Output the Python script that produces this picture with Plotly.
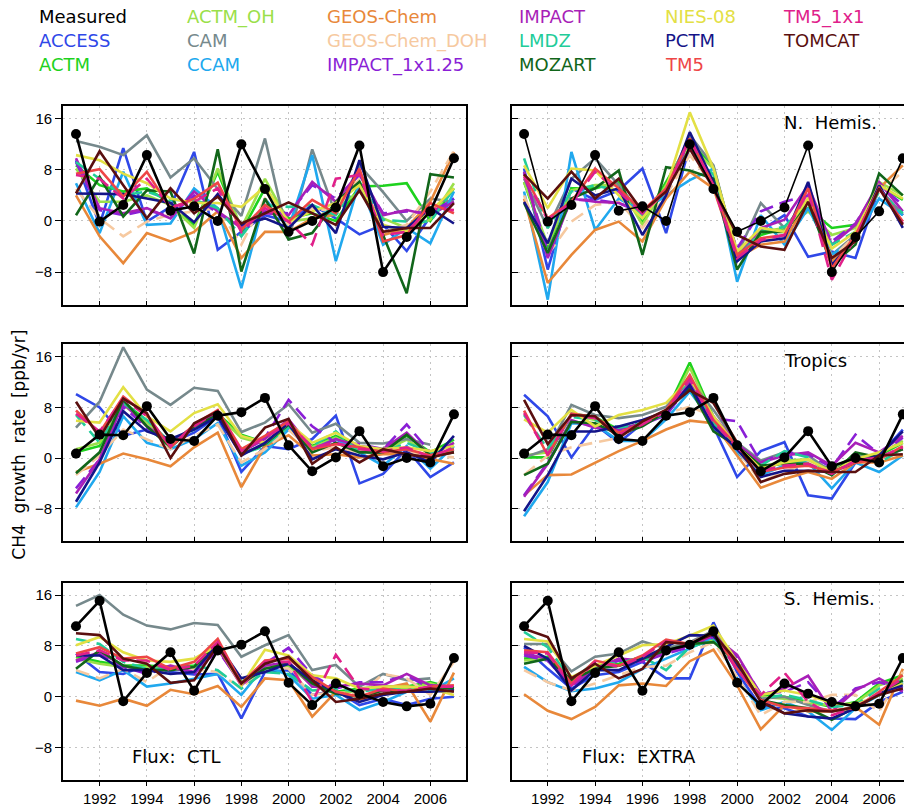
import plotly.graph_objects as go

# ---------------------------------------------------------------- data
years = list(range(1991, 2008))
tick_years = list(range(1992, 2007, 2))
y_ticks = [-8, 0, 8, 16]

models = ["ACCESS", "ACTM", "ACTM_OH", "CAM", "CCAM", "GEOS-Chem",
          "GEOS-Chem_DOH", "IMPACT_1x1.25", "IMPACT", "LMDZ", "MOZART",
          "NIES-08", "PCTM", "TM5", "TM5_1x1", "TOMCAT"]

colors = {
    "Measured": "#000000", "ACCESS": "#2f48e8", "ACTM": "#1ed21e",
    "ACTM_OH": "#9ae04a", "CAM": "#76898c", "CCAM": "#20a8ee",
    "GEOS-Chem": "#e8883a", "GEOS-Chem_DOH": "#f6c9a0",
    "IMPACT_1x1.25": "#8a1fd6", "IMPACT": "#a81fb8", "LMDZ": "#22cc99",
    "MOZART": "#11661a", "NIES-08": "#e3e044", "PCTM": "#141488",
    "TM5": "#ee4646", "TM5_1x1": "#e0208a", "TOMCAT": "#5a0f0f",
}
dashed = {"GEOS-Chem_DOH", "IMPACT_1x1.25", "TM5_1x1", "LMDZ"}

# observed CH4 growth rate (ppb/yr)
measured_nh = [13.6, -0.1, 2.5, 10.3, 1.6, 2.3, 0.0, 12.0, 5.0, -1.7, 0.0, 2.1, 11.8, -8.0, -2.5, 1.5, 9.8]
measured_tr = [0.7, 3.7, 3.6, 8.2, 3.0, 2.7, 6.7, 7.25, 9.5, 2.0, -2.1, 0.1, 4.25, -1.3, 0.0, -0.7, 6.9]
measured_sh = [11.1, 15.1, -0.7, 3.75, 7.0, 0.95, 7.3, 8.2, 10.3, 2.2, -1.3, 2.1, 0.5, -0.8, -1.5, -1.1, 6.1]

# model growth rates, flux scenario CTL
nh_ctl = {
    "ACCESS": [9.5, -0.6, 11.4, -0.1, 2.2, 10.8, -4.5, -1.7, 0.9, -0.1, 2.5, 0.4, -2.1, -0.6, -4.7, 0.7, 3.5],
    "ACTM": [8.7, 5.6, 4.6, 5.1, 2.8, -0.6, 7.7, -1.7, 5.1, 0.4, 1.2, 0.0, 5.4, 5.5, 5.9, 0.0, 5.1],
    "ACTM_OH": [8.2, 3.0, 3.0, 4.0, 2.5, -1.1, 8.2, -1.1, 6.6, -0.1, 0.4, 2.0, 4.6, 0.4, -1.1, 0.2, 5.9],
    "CAM": [12.5, 11.6, 10.3, 13.4, 6.8, 9.8, 5.0, 0.8, 12.9, -3.0, 11.2, 1.0, 8.7, 4.5, 0.0, 3.5, 3.0],
    "CCAM": [5.9, -1.9, 7.7, -0.6, -0.4, 5.1, 2.0, -10.5, 3.5, -1.1, 10.3, -6.3, 6.1, -3.7, -1.1, -3.5, 4.6],
    "GEOS-Chem": [4.0, -2.4, -6.6, -1.9, -3.2, -1.7, 1.5, -5.8, -1.7, -1.7, 0.4, 1.0, 7.7, -2.2, -1.1, 3.0, 10.8],
    "GEOS-Chem_DOH": [5.0, 0.4, -2.4, -0.1, 1.0, 1.5, 2.0, -3.7, 3.5, -0.6, 2.0, 1.5, 6.6, -1.7, -0.6, 4.6, 11.0],
    "IMPACT_1x1.25": [9.2, 1.7, 0.9, 1.7, 0.7, 4.0, 1.2, -0.9, 1.5, 1.2, 5.6, 3.5, 7.2, 1.2, 1.5, 1.2, 3.5],
    "IMPACT": [9.8, 2.0, 1.2, 2.0, 0.4, 4.6, 1.5, -1.1, 1.2, 0.9, 6.1, 3.0, 7.7, 0.9, 1.7, 0.9, 3.0],
    "LMDZ": [9.2, 6.6, 4.0, 4.6, 3.3, 3.3, 2.0, -2.4, 2.5, 2.2, 2.5, 0.9, 6.1, 0.2, -0.1, -0.1, 5.1],
    "MOZART": [0.9, 6.9, 0.7, 4.8, 4.6, -5.1, 11.2, -7.9, 3.5, -2.9, -1.9, 3.0, 6.1, -2.2, -11.3, 7.3, 6.8],
    "NIES-08": [10.3, 9.5, 7.4, 5.9, 3.5, 2.8, 2.8, 2.2, 5.4, -0.1, 1.5, 2.8, 5.6, -0.6, -1.7, 1.5, 5.1],
    "PCTM": [4.3, 4.3, 4.2, 3.5, 2.8, -0.2, 4.2, -0.6, 0.4, -1.1, 2.5, -1.9, 9.5, -0.9, -1.1, 2.0, -0.4],
    "TM5": [7.4, 8.1, 3.8, 7.7, 2.0, 3.5, 6.0, -1.4, 2.5, -0.1, 3.3, 1.2, 8.2, -3.2, -2.2, 2.8, 1.2],
    "TM5_1x1": [7.2, 6.6, 3.5, 6.6, 2.2, 3.0, 5.1, -1.7, 2.0, -0.1, -3.7, 6.6, 7.2, -2.2, -1.7, 2.0, 1.7],
    "TOMCAT": [4.3, 10.9, 5.6, 0.4, 5.1, 1.2, 3.8, -0.4, 1.2, 2.9, 1.2, -0.6, 4.8, -1.7, -1.1, -1.1, 2.8],
}
tr_ctl = {
    "ACCESS": [10.1, 8.0, 3.5, 4.5, 2.4, 4.0, 6.6, -2.2, 1.9, 1.4, 3.0, 6.7, -4.0, -2.5, 1.4, -3.0, -0.7],
    "ACTM": [0.9, 1.9, 8.9, 5.9, 2.2, 5.1, 7.0, 3.7, 2.4, 5.1, 1.9, 3.5, 1.7, 1.4, 3.5, 0.9, 2.9],
    "ACTM_OH": [1.4, 2.4, 8.4, 5.6, 1.9, 4.8, 6.8, 3.2, 2.2, 4.8, 1.7, 3.2, 1.4, 1.1, 2.9, 0.6, 2.4],
    "CAM": [4.8, 8.9, 17.5, 10.8, 8.4, 11.1, 10.6, 4.1, 5.6, 8.5, 4.0, 5.4, 2.4, 2.3, 3.0, 2.1, None],
    "CCAM": [-7.8, -2.2, 6.6, 2.4, 1.4, 3.0, 5.5, -1.2, 0.9, 4.5, 1.4, 3.0, 0.9, -1.2, 1.9, -1.7, 1.9],
    "GEOS-Chem": [-2.2, -0.9, 0.7, -0.2, -1.3, 1.7, 4.0, -4.6, 1.9, 3.6, 0.4, 0.6, 0.1, 0.6, 0.6, -0.2, -0.9],
    "GEOS-Chem_DOH": [-2.7, 0.4, 4.5, 2.9, 1.4, 3.5, 5.3, -0.7, 1.4, 4.5, 1.1, 1.7, 0.9, 1.1, 0.9, 0.4, 0.1],
    "IMPACT_1x1.25": [-4.8, -0.2, 8.1, 4.8, 2.4, 4.8, 6.8, 1.1, 3.2, 9.2, 5.0, 2.4, 2.2, 1.4, 5.3, 0.9, 1.4],
    "IMPACT": [-5.6, -0.2, 8.7, 5.0, 2.4, 5.0, 7.1, 0.9, 3.0, 6.1, 1.4, 3.0, 1.9, 1.4, 4.0, 0.4, 2.4],
    "LMDZ": [6.8, 2.4, 8.7, 6.0, 2.4, 4.5, 6.8, 0.6, 1.9, 5.0, 1.9, 4.2, 0.9, 0.9, 2.4, 0.9, 1.4],
    "MOZART": [-2.4, 0.9, 9.2, 5.0, 1.7, 5.0, 6.8, 0.6, 2.2, 5.3, 0.9, 2.4, 0.9, 0.9, 3.7, 0.4, 0.9],
    "NIES-08": [5.9, 5.6, 11.2, 6.6, 4.2, 7.1, 8.5, 3.5, 2.4, 5.5, 2.4, 4.0, 1.9, 1.4, 1.7, 1.1, 1.9],
    "PCTM": [-6.9, -0.7, 7.4, 4.2, 3.0, 4.5, 6.6, 0.4, 2.4, 5.5, -0.2, 1.4, 0.4, -0.2, 0.9, -0.7, 3.5],
    "TM5": [7.5, 4.0, 9.7, 6.8, 1.7, 5.3, 7.6, 1.4, 3.5, 5.8, 1.4, 2.2, 1.7, 0.9, 1.4, 0.4, 1.4],
    "TM5_1x1": [7.0, 4.2, 9.4, 6.6, 1.9, 5.0, 7.4, 1.1, 3.2, 5.5, 1.7, 2.4, 1.4, 1.1, 1.7, 0.1, 1.7],
    "TOMCAT": [8.9, 3.2, 9.4, 7.1, 0.0, 5.5, 7.4, 0.4, 4.8, 6.2, -0.9, 1.7, -0.7, 1.4, 0.6, 0.1, 0.9],
}
sh_ctl = {
    "ACCESS": [6.8, 3.9, 3.6, 5.0, 3.9, 3.5, 3.6, -3.4, 3.9, 4.2, 0.3, 1.0, -1.3, -0.3, -1.3, -0.3, 0.0],
    "ACTM": [6.3, 5.5, 4.9, 4.9, 4.7, 4.9, 8.1, 2.3, 4.9, 5.2, 2.1, 0.8, 1.3, 1.6, 1.6, 2.3, 1.3],
    "ACTM_OH": [6.0, 5.2, 4.7, 4.7, 4.4, 4.7, 7.6, 2.1, 4.7, 4.9, 1.8, 0.5, 1.0, 1.3, 1.3, 2.1, 1.0],
    "CAM": [14.3, 16.0, 12.9, 11.2, 10.6, 11.6, 11.3, 6.3, 8.1, 9.7, 4.2, 5.0, 1.6, 3.6, 2.6, 2.9, None],
    "CCAM": [3.9, 2.6, 4.2, 1.6, 2.1, 2.9, 3.6, 0.3, 4.9, 3.4, -0.3, 0.3, -2.1, -0.8, 0.8, 0.8, 2.9],
    "GEOS-Chem": [-0.6, -1.4, -0.3, -1.4, 1.1, 0.4, 1.7, -1.6, 2.9, 2.6, -3.1, 0.8, -0.8, 1.3, 2.1, -3.9, 3.8],
    "GEOS-Chem_DOH": [4.2, 2.9, 4.4, 2.3, 4.9, 4.4, 3.9, 1.3, 4.9, 4.4, 0.3, 0.8, 0.3, 3.6, 2.9, 0.3, 5.5],
    "IMPACT_1x1.25": [5.5, 6.8, 4.7, 3.6, 4.7, 3.6, 7.3, 2.1, 5.2, 7.7, 3.4, 1.3, 2.3, 2.3, 3.4, 1.3, 1.0],
    "IMPACT": [5.7, 7.0, 4.9, 3.9, 4.9, 3.9, 7.6, 1.8, 4.9, 5.5, 1.6, 1.6, 2.1, 1.8, 3.6, 1.8, 1.6],
    "LMDZ": [9.1, 8.3, 5.5, 4.4, 4.4, 4.9, 4.2, 1.3, 3.9, 3.6, 1.0, 1.3, 0.8, 1.3, 1.6, 0.8, 1.3],
    "MOZART": [4.4, 7.3, 4.9, 4.2, 4.2, 4.7, 8.3, 2.1, 4.4, 5.2, 2.1, 0.5, 0.0, 1.0, 0.8, 1.6, 1.3],
    "NIES-08": [8.1, 9.4, 7.0, 5.7, 5.5, 6.0, 8.1, 1.8, 7.4, 6.5, 3.4, 2.9, 1.3, 1.6, 1.6, 1.3, 0.3],
    "PCTM": [6.5, 6.5, 4.2, 4.2, 3.6, 3.9, 8.3, 2.9, 3.9, 5.2, 2.6, 0.8, -0.8, 0.3, 0.8, 0.8, 1.0],
    "TM5": [6.8, 7.8, 6.0, 6.3, 4.4, 5.5, 9.1, 2.1, 5.7, 6.0, 3.1, 0.8, 0.0, 1.3, 0.8, 1.6, 1.8],
    "TM5_1x1": [6.5, 7.3, 5.7, 5.7, 4.2, 4.9, 8.6, 1.8, 5.5, 5.5, -0.8, 6.6, 1.3, 1.0, 1.0, 1.6, 1.6],
    "TOMCAT": [10.0, 9.7, 6.0, 5.2, 2.2, 2.6, 8.1, 2.1, 5.2, 6.3, 2.6, -0.8, -0.3, 0.5, 0.8, 1.3, 0.8],
}

# model growth rates, flux scenario EXTRA
nh_extra = {
    "ACCESS": [8.2, -7.6, 5.1, 3.3, 4.8, 8.2, -1.9, 11.8, 5.6, -6.3, -1.5, 0.9, -5.6, -4.8, -5.8, 5.1, 0.9],
    "ACTM": [6.1, -4.3, 5.1, 5.1, 6.1, -0.1, 6.1, 12.4, 8.5, -5.3, -2.2, -1.1, 2.0, -1.1, -0.6, 5.6, 3.3],
    "ACTM_OH": [6.1, -3.7, 4.8, 5.6, 5.6, -0.6, 5.6, 11.8, 8.2, -4.8, -1.7, -1.1, 1.5, -2.2, -1.1, 6.1, 4.0],
    "CAM": [6.6, -1.1, 6.6, 9.8, 5.6, 0.9, 5.1, 13.4, 8.7, -5.3, 2.8, -1.1, 3.5, -5.3, -2.2, 5.1, 0.9],
    "CCAM": [4.6, -12.3, 10.8, -1.4, 3.5, 1.5, 4.0, 6.4, 8.2, -9.5, 0.9, -3.7, 2.0, -5.3, -2.7, 3.5, 0.9],
    "GEOS-Chem": [3.5, -9.7, -5.3, -1.4, -0.1, -3.2, 3.5, 7.7, 5.1, -5.8, -3.7, -3.2, 3.5, -6.3, -2.7, 5.1, 8.7],
    "GEOS-Chem_DOH": [4.0, -5.3, -0.1, 2.5, 3.0, -1.1, 4.0, 10.3, 5.6, -5.3, -3.2, -2.2, 4.0, -5.8, -2.2, 4.6, 7.7],
    "IMPACT_1x1.25": [7.5, -4.8, 3.3, 3.3, 2.8, 1.2, 4.8, 12.6, 5.6, -4.3, 1.5, 3.0, 4.0, -3.2, -0.4, 5.6, 2.5],
    "IMPACT": [7.7, -5.8, 3.5, 3.0, 2.8, 1.5, 4.6, 12.9, 5.6, -5.8, -1.1, 0.2, 5.6, -3.7, -0.6, 6.1, 1.5],
    "LMDZ": [9.8, -1.1, 4.6, 5.6, 4.6, 0.4, 5.1, 11.3, 7.2, -5.8, -1.7, -0.9, 3.0, -3.7, -1.7, 4.6, 1.2],
    "MOZART": [2.8, -5.0, 3.5, 5.1, 7.9, -5.3, 8.4, 7.9, 6.6, -7.6, -1.7, -1.7, 3.0, -6.9, -3.7, 7.4, 4.0],
    "NIES-08": [8.7, 2.0, 8.2, 7.9, 4.0, 0.4, 5.1, 17.0, 8.2, -4.8, -1.1, -1.7, 3.5, -4.3, -1.7, 5.6, 3.5],
    "PCTM": [3.0, -3.5, 6.6, 4.0, 5.1, -2.2, 4.0, 13.9, 6.1, -6.3, -3.2, -2.7, 6.1, -6.9, -2.7, 5.6, -1.1],
    "TM5": [7.2, 0.4, 3.0, 8.2, 5.1, 1.5, 5.1, 12.9, 5.6, -5.3, -2.7, -2.2, 5.1, -7.4, -2.2, 5.1, -0.1],
    "TM5_1x1": [6.9, 0.2, 2.8, 7.7, 4.6, 1.2, 4.6, 12.9, 5.4, -5.8, -3.0, -2.2, 4.6, -9.2, -2.5, 5.1, -0.4],
    "TOMCAT": [7.3, 3.5, 7.7, 3.5, 6.6, 1.5, 4.6, 11.3, 5.1, -2.2, -4.0, -4.5, 3.0, -5.8, -3.2, 5.1, -0.6],
}
tr_extra = {
    "ACCESS": [10.0, 6.6, 0.1, 5.3, 2.4, 5.5, 6.8, 11.8, 5.0, -3.0, 1.1, 2.5, -5.9, -6.4, -0.7, 0.4, 4.5],
    "ACTM": [0.1, 0.1, 7.0, 6.5, 4.5, 5.5, 7.3, 15.1, 6.5, 1.9, -1.7, -0.7, -0.7, -1.7, 0.4, 0.4, 2.4],
    "ACTM_OH": [0.4, 0.9, 6.8, 6.0, 4.2, 5.3, 7.0, 14.3, 6.3, 1.7, -1.5, -0.4, -0.2, -2.0, 0.1, 0.6, 2.7],
    "CAM": [0.1, 1.4, 8.4, 6.8, 6.3, 6.8, 8.1, 12.3, 7.6, 2.4, -0.4, 0.9, 0.4, -2.2, 0.4, -0.2, 1.4],
    "CCAM": [-9.2, -3.8, 5.5, 5.3, 2.7, 2.7, 6.1, 10.5, 5.5, 0.9, -2.7, -1.2, -0.7, -4.8, -0.7, -2.2, 0.4],
    "GEOS-Chem": [-5.9, -2.7, -2.6, -0.7, 1.1, 2.7, 4.5, 5.9, 5.5, 0.4, -4.7, -3.3, -2.2, -3.3, -0.7, -0.7, 0.4],
    "GEOS-Chem_DOH": [-2.7, 0.4, 1.7, 2.4, 3.2, 5.5, 7.1, 8.1, 6.6, 1.4, -3.8, -2.2, -0.7, -2.2, -0.2, -0.2, 0.9],
    "IMPACT_1x1.25": [-5.9, -0.7, 5.8, 5.0, 4.2, 5.3, 6.8, 11.5, 6.3, 5.8, -0.7, 0.9, 0.6, -1.5, 3.7, 0.6, 3.2],
    "IMPACT": [-6.1, -0.9, 6.0, 4.8, 4.5, 5.5, 7.1, 11.8, 6.6, 2.2, -0.7, 0.4, 0.9, -1.2, 2.4, 0.9, 3.5],
    "LMDZ": [6.8, 1.4, 6.5, 6.0, 4.8, 5.5, 7.0, 12.8, 5.5, 1.7, -1.2, 1.1, 0.1, -2.7, 0.4, -0.7, 1.4],
    "MOZART": [-2.7, -0.9, 5.7, 5.5, 3.7, 5.0, 7.3, 11.2, 4.2, 1.9, -1.2, -0.9, -0.9, -2.7, 0.9, 0.1, 1.4],
    "NIES-08": [6.1, 4.0, 7.6, 5.0, 6.8, 7.6, 8.7, 12.5, 6.6, 1.9, -1.7, -0.7, -0.2, -2.2, -0.2, 0.9, 2.4],
    "PCTM": [-8.4, -2.7, 4.2, 4.2, 5.0, 6.0, 7.3, 11.5, 5.0, 1.4, -3.0, -2.0, -2.0, -2.2, -0.7, 0.4, 4.2],
    "TM5": [7.5, 0.4, 7.0, 6.5, 4.0, 5.5, 7.6, 13.1, 6.0, 1.9, -2.2, -1.5, -1.2, -2.2, -0.7, -0.2, 1.9],
    "TM5_1x1": [7.1, 0.6, 6.8, 6.3, 3.7, 5.3, 7.4, 12.5, 5.7, 1.7, -2.0, -1.2, -0.9, -2.5, -0.4, 0.1, 1.7],
    "TOMCAT": [9.2, 2.2, 6.8, 6.6, 3.2, 5.8, 7.6, 10.7, 8.7, 2.4, -3.8, -2.5, -2.0, -2.2, -2.2, 0.4, 0.6],
}
sh_extra = {
    "ACCESS": [7.8, 4.4, 1.3, 3.4, 3.9, 5.5, 2.9, 2.9, 11.7, 3.9, -1.6, -1.8, -3.1, -3.4, -3.5, -0.8, 0.8],
    "ACTM": [6.0, 6.3, 2.6, 4.9, 5.2, 6.3, 7.6, 8.3, 9.1, 5.5, 0.3, 0.0, -0.8, -1.6, -0.8, 2.1, 3.4],
    "ACTM_OH": [5.7, 6.0, 2.3, 4.7, 4.9, 6.0, 7.3, 8.1, 8.9, 5.2, 0.0, -0.3, -1.0, -1.3, -1.0, 1.8, 2.9],
    "CAM": [8.3, 8.3, 4.0, 6.3, 6.8, 8.7, 7.6, 8.6, 10.4, 4.9, -0.3, 0.0, -1.3, -2.3, -1.6, 0.3, 2.3],
    "CCAM": [4.7, 2.3, 0.9, 1.3, 2.3, 4.4, 6.0, 7.6, 9.4, 2.9, -2.1, -0.8, -2.3, -5.2, -1.8, 0.3, 2.3],
    "GEOS-Chem": [0.4, -2.2, -3.5, -1.6, 1.8, 2.1, 1.7, 5.6, 7.4, 1.8, -5.1, -1.3, -2.3, -2.3, -1.6, -4.4, 4.4],
    "GEOS-Chem_DOH": [4.2, 2.3, 1.0, 2.1, 3.4, 4.7, 4.9, 7.0, 8.6, 3.1, -2.9, -0.8, -0.8, 0.3, 0.3, -2.3, 3.9],
    "IMPACT_1x1.25": [6.5, 5.7, 1.6, 4.2, 5.7, 5.5, 6.8, 7.8, 9.4, 6.3, 0.5, 0.8, 2.3, -1.8, 1.3, 2.3, 1.3],
    "IMPACT": [6.8, 6.0, 1.8, 4.4, 6.0, 5.7, 7.0, 8.1, 9.6, 6.6, 0.3, 1.3, 3.3, -2.3, 1.0, 2.9, 0.8],
    "LMDZ": [10.2, 7.8, 2.6, 5.5, 5.2, 6.3, 4.2, 7.8, 8.9, 4.7, -0.3, 0.3, -0.5, -1.6, -1.3, 1.3, 2.9],
    "MOZART": [5.2, 6.0, 2.6, 4.4, 4.9, 6.0, 7.3, 8.3, 8.6, 5.5, -0.5, -1.3, -1.8, -3.6, -1.6, 0.3, 2.6],
    "NIES-08": [9.1, 8.7, 3.1, 4.9, 6.5, 8.1, 8.3, 9.6, 11.2, 5.5, 0.3, 1.0, 0.3, -1.0, -1.3, 0.3, 2.1],
    "PCTM": [8.0, 6.0, 1.0, 4.2, 4.2, 6.0, 7.8, 9.7, 9.6, 4.9, -0.5, -2.6, -3.1, -3.4, -1.8, 0.5, 1.8],
    "TM5": [7.3, 7.0, 2.1, 5.7, 4.9, 6.5, 9.0, 8.3, 10.2, 4.4, -0.5, -1.6, -1.8, -2.1, -1.8, 0.8, 3.4],
    "TM5_1x1": [7.0, 6.8, 1.8, 5.5, 4.7, 6.3, 8.7, 8.1, 9.9, 4.2, 0.3, 3.8, -0.8, -2.9, -1.6, 0.5, 2.9],
    "TOMCAT": [10.7, 9.4, 2.9, 5.2, 2.9, 4.4, 8.6, 8.3, 9.9, 5.5, -0.8, -2.6, -2.1, -2.3, -1.6, 0.3, 1.3],
}

# legend text, laid out column by column, three entries per column
legend_columns = [
    ["Measured", "ACCESS", "ACTM"],
    ["ACTM_OH", "CAM", "CCAM"],
    ["GEOS-Chem", "GEOS-Chem_DOH", "IMPACT_1x1.25"],
    ["IMPACT", "LMDZ", "MOZART"],
    ["NIES-08", "PCTM", "TM5"],
    ["TM5_1x1", "TOMCAT"],
]

# ---------------------------------------------------------------- layout helpers
W, H = 904, 807


def px_x(p):
    return p / W


def px_y(p):
    return 1 - p / H


col_domains = [[px_x(63), px_x(466)], [px_x(512), 1.0]]
row_domains = [[px_y(307), px_y(107)], [px_y(545), px_y(347)], [px_y(786), px_y(587)]]
col_xranges = [[1990.45, 2007.51], [1990.49, 2007.05]]
y_range = [-13.1, 17.95]

# (row, column, model series, observations, width of the observed line)
panels = [
    (0, 0, nh_ctl, measured_nh, 2.6), (0, 1, nh_extra, measured_nh, 1.6),
    (1, 0, tr_ctl, measured_tr, 2.6), (1, 1, tr_extra, measured_tr, 2.6),
    (2, 0, sh_ctl, measured_sh, 2.6), (2, 1, sh_extra, measured_sh, 2.6),
]

tick_font = dict(family="Liberation Sans, Arial, sans-serif", size=15, color="black")
label_font = dict(family="DejaVu Sans, sans-serif", size=18, color="black")
grid_style = dict(showgrid=True, gridcolor="#c4c4c4", griddash="2px,4px", gridwidth=1)

fig = go.Figure()
layout = {}

for i, (row, col, series, measured, obs_width) in enumerate(panels, start=1):
    xa = "x" if i == 1 else f"x{i}"
    ya = "y" if i == 1 else f"y{i}"
    for name in models:
        fig.add_trace(go.Scatter(
            x=years, y=series[name], mode="lines", name=name,
            line=dict(color=colors[name], width=2.6,
                      dash="14px,7px" if name in dashed else "solid"),
            xaxis=xa, yaxis=ya, showlegend=False, connectgaps=False,
        ))
    fig.add_trace(go.Scatter(
        x=years, y=measured, mode="lines+markers", name="Measured",
        line=dict(color="black", width=obs_width),
        marker=dict(color="black", size=10),
        xaxis=xa, yaxis=ya, showlegend=False,
    ))

    layout[f"xaxis{'' if i == 1 else i}"] = dict(
        domain=col_domains[col], range=col_xranges[col], anchor=ya,
        tickmode="array", tickvals=tick_years,
        showticklabels=(row == 2), tickfont=tick_font,
        ticks="outside" if row == 2 else "inside", ticklen=4, tickcolor="black",
        showline=True, linecolor="black", linewidth=1.8, mirror=True,
        zeroline=False, fixedrange=True, **grid_style,
    )
    layout[f"yaxis{'' if i == 1 else i}"] = dict(
        domain=row_domains[row], range=y_range, anchor=xa,
        tickmode="array", tickvals=y_ticks,
        showticklabels=(col == 0), tickfont=tick_font,
        ticks="outside" if col == 0 else "inside", ticklen=6, tickcolor="black",
        showline=True, linecolor="black", linewidth=1.8,
        mirror=(col == 0), zeroline=False, fixedrange=True, **grid_style,
    )

annotations = []

# colored legend text
col_left = [37, 185, 325, 517, 663, 781]
row_mid = [17, 41, 65]
for c, names in enumerate(legend_columns):
    for r, name in enumerate(names):
        annotations.append(dict(
            x=px_x(col_left[c]), y=px_y(row_mid[r]), xref="paper", yref="paper",
            text=name, showarrow=False, xanchor="left", yanchor="middle",
            font=dict(family="DejaVu Sans, sans-serif", size=18, color=colors[name]),
        ))

# region and flux labels
for text, x0, y0 in [
    ("N.\u00a0 Hemis.", 782, 123), ("Tropics", 782, 363), ("S.\u00a0 Hemis.", 782, 603),
    ("Flux:\u00a0 CTL", 130, 762), ("Flux:\u00a0 EXTRA", 580, 762),
]:
    annotations.append(dict(
        x=px_x(x0), y=px_y(y0), xref="paper", yref="paper", text=text,
        showarrow=False, xanchor="left", yanchor="middle", font=label_font,
    ))

# shared y-axis title
annotations.append(dict(
    x=px_x(19), y=px_y(448), xref="paper", yref="paper",
    text="CH4\u00a0 growth\u00a0 rate\u00a0 [ppb/yr]", textangle=-90,
    showarrow=False, xanchor="center", yanchor="middle",
    font=dict(family="DejaVu Sans, sans-serif", size=17, color="black"),
))

fig.update_layout(
    width=W, height=H, margin=dict(l=0, r=0, t=0, b=0),
    paper_bgcolor="white", plot_bgcolor="white",
    annotations=annotations, **layout,
)

fig.write_html("out.html", config={"displayModeBar": False})
